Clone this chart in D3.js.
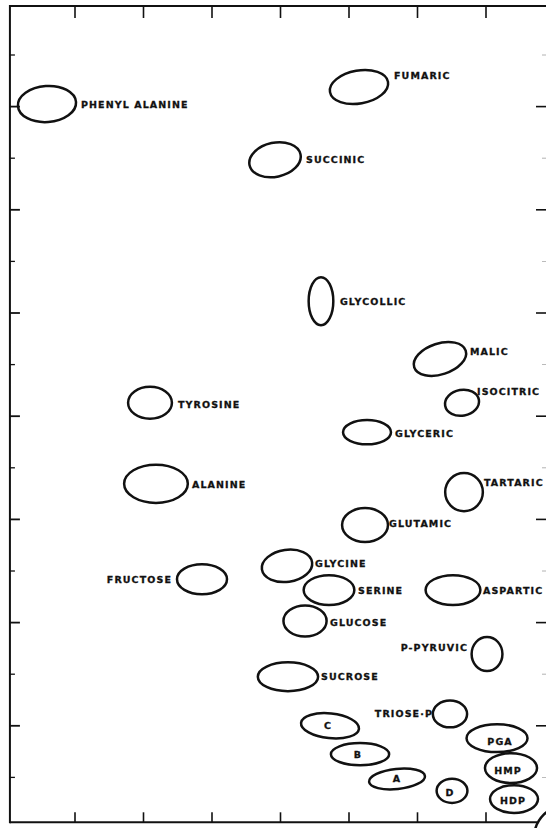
<!DOCTYPE html>
<html><head><meta charset="utf-8">
<script src="https://cdn.jsdelivr.net/npm/d3@7"></script>
<style>html,body{margin:0;padding:0;background:#fff;}svg{display:block;}</style>
</head><body>
<svg id="chart" width="546" height="828"></svg>
<script>
// ---- data (chromatogram spot positions in plate units) ----
const compounds = ["PHENYL ALANINE","FUMARIC","SUCCINIC","GLYCOLLIC","MALIC","ISOCITRIC","GLYCERIC",
  "TYROSINE","ALANINE","TARTARIC","GLUTAMIC","FRUCTOSE","GLYCINE","SERINE","ASPARTIC","GLUCOSE",
  "P-PYRUVIC","SUCROSE","TRIOSE·P","C","PGA","B","HMP","A","D","HDP",""];
const spotX = [0.591,5.146,3.920,4.591,6.328,6.650,5.263,2.095,2.182,6.679,5.234,2.854,4.095,4.708,6.518,4.358,
  7.015,4.109,6.474,4.723,7.161,5.161,7.365,5.701,6.504,7.409,8.183];
const spotY = [14.05,14.38,12.97,10.23,9.11,8.26,7.69,8.26,6.69,6.53,5.89,4.84,5.10,4.63,4.63,4.03,
  3.39,2.95,2.23,2.00,1.76,1.45,1.18,0.97,0.74,0.58,-0.174];
const spotW = [0.85,0.86,0.76,0.36,0.79,0.50,0.70,0.64,0.93,0.55,0.67,0.73,0.74,0.74,0.80,0.63,
  0.45,0.88,0.50,0.85,0.89,0.85,0.76,0.82,0.45,0.70,0.963];
const spotH = [0.70,0.64,0.66,0.93,0.60,0.50,0.47,0.62,0.74,0.74,0.66,0.58,0.62,0.58,0.58,0.60,
  0.66,0.56,0.52,0.48,0.54,0.43,0.58,0.39,0.47,0.54,1.279];
const spotTilt = [-4,-10,-12,0,-18,-10,0,0,0,0,0,0,-8,0,0,0,0,0,0,6,0,0,0,-6,0,0,0];
const xTicks = [1,2,3,4,5,6,7];
const yTicks = d3.range(1,16);

// ---- label layout: [anchor, dx px, dy px] relative to spot centre ----
const labelLayout = [["start",34,0],["start",35,-11],["start",31,0],["start",19,0],["start",30,-7],
  ["start",15,-11],["start",28,1],["start",28,2],["start",36,1],["start",20,-10],["start",24,-2],
  ["end",-30,0],["start",28,-2],["start",29,0],["start",30,0],["start",25,1],["end",-19,-7],
  ["start",33,0],["end",-17,0],["middle",-2,0],["middle",3,3],["middle",-2,0],["middle",-3,2],
  ["middle",0,0],["middle",-2,2],["middle",-1,1],["middle",0,0]];

const svg = d3.select("#chart");
const W = 546, H = 828;
const x = d3.scaleLinear().domain([0, 8]).range([6.5, 554.5]);
const y = d3.scaleLinear().domain([0, 16]).range([829, 3.4]);
const frameX0 = x(0.05), frameY0 = y(15.95), frameY1 = y(0.13);

svg.append("rect").attr("width", W).attr("height", H).attr("fill", "#fff");

const ink = "#111";
const g = svg.append("g");
// frame
g.append("line").attr("x1", frameX0).attr("x2", W).attr("y1", frameY0).attr("y2", frameY0)
  .attr("stroke", ink).attr("stroke-width", 2);
g.append("line").attr("x1", frameX0).attr("x2", frameX0).attr("y1", frameY0 - 1).attr("y2", frameY1 + 1)
  .attr("stroke", ink).attr("stroke-width", 2);
g.append("line").attr("x1", frameX0).attr("x2", x(7.75)).attr("y1", frameY1).attr("y2", frameY1)
  .attr("stroke", ink).attr("stroke-width", 2);

// top & bottom ticks
g.selectAll(".tt").data(xTicks).join("line")
  .attr("x1", d => x(d)).attr("x2", d => x(d)).attr("y1", frameY0).attr("y2", frameY0 + 12)
  .attr("stroke", ink).attr("stroke-width", 1.6);
g.selectAll(".bt").data(xTicks).join("line")
  .attr("x1", d => x(d)).attr("x2", d => x(d)).attr("y1", frameY1).attr("y2", frameY1 - 10)
  .attr("stroke", ink).attr("stroke-width", 1.6);
// left ticks
g.selectAll(".lt").data(yTicks).join("line")
  .attr("x1", frameX0).attr("x2", d => frameX0 + (d % 2 === 0 ? 10 : 5))
  .attr("y1", d => y(d)).attr("y2", d => y(d))
  .attr("stroke", ink).attr("stroke-width", d => d % 2 === 0 ? 1.8 : 1.3);
// right ticks
g.selectAll(".rt").data(yTicks).join("line")
  .attr("x1", d => d % 2 === 0 ? 536 : 542).attr("x2", 546)
  .attr("y1", d => y(d)).attr("y2", d => y(d))
  .attr("stroke", ink).attr("stroke-width", d => d % 2 === 0 ? 1.6 : 0.8)
  .attr("opacity", d => d % 2 === 0 ? 1 : 0.4);

// spots
const spots = compounds.map((c, i) => ({
  name: c, cx: x(spotX[i]), cy: y(spotY[i]),
  rx: (x(spotW[i]) - x(0)) / 2, ry: (y(0) - y(spotH[i])) / 2,
  tilt: spotTilt[i], lay: labelLayout[i]
}));

g.selectAll(".spot").data(spots).join("ellipse")
  .attr("cx", 0).attr("cy", 0).attr("rx", d => d.rx).attr("ry", d => d.ry)
  .attr("transform", d => `translate(${d.cx},${d.cy}) rotate(${d.tilt})`)
  .attr("fill", "none").attr("stroke", ink).attr("stroke-width", 2.5);

g.selectAll(".lab").data(spots.filter(d => d.name)).join("text")
  .attr("x", d => d.cx + d.lay[1]).attr("y", d => d.cy + d.lay[2])
  .attr("text-anchor", d => d.lay[0])
  .attr("dominant-baseline", "central")
  .attr("font-family", "'DejaVu Sans', sans-serif")
  .attr("font-weight", "bold")
  .attr("font-size", 9.5)
  .attr("letter-spacing", 1.1)
  .attr("fill", ink)
  .attr("stroke", ink).attr("stroke-width", 0.3)
  .text(d => d.name);
</script>
</body></html>
